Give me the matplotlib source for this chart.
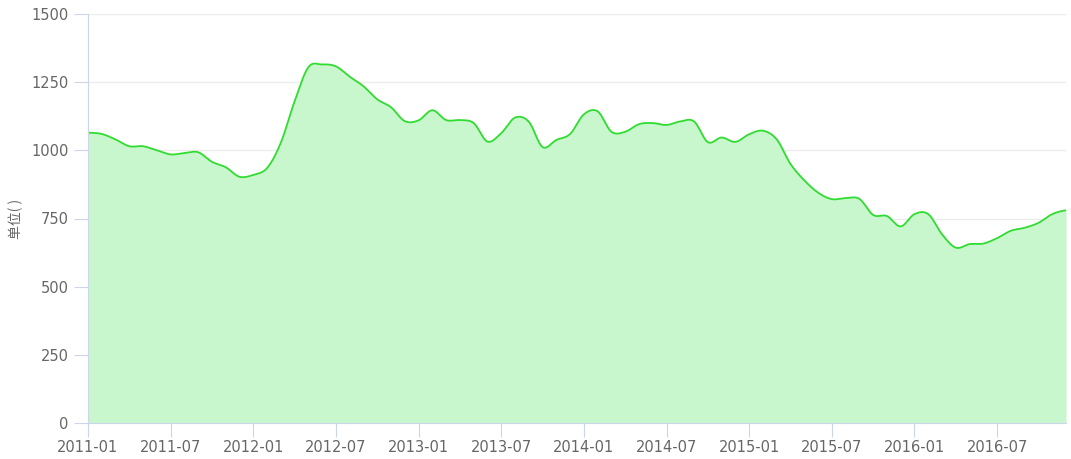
# Monthly series 2011-01 .. 2016-12, smoothed area chart
import numpy as np
import matplotlib
matplotlib.use("Agg")
import matplotlib.pyplot as plt

years = [2011, 2012, 2013, 2014, 2015, 2016]
months = [f"{y}-{m:02d}" for y in years for m in range(1, 13)]

values = [
    1065, 1060, 1040, 1015, 1015, 1000, 985, 990, 993, 958, 938, 903,
    910, 935, 1028, 1180, 1305, 1315, 1308, 1270, 1235, 1187, 1158, 1107,
    1110, 1147, 1111, 1111, 1100, 1032, 1063, 1120, 1105, 1012, 1038, 1060,
    1132, 1143, 1068, 1068, 1096, 1100, 1093, 1106, 1106, 1030, 1047, 1031,
    1059, 1072, 1040, 950, 890, 845, 821, 825, 822, 763, 759, 721,
    766, 766, 692, 643, 656, 658, 678, 705, 716, 734, 766, 780,
]

tick_idx = list(range(0, len(months), 6))
tick_labels = [months[i] for i in tick_idx]
y_ticks = [0, 250, 500, 750, 1000, 1250, 1500]

line_color = "#2fdc2f"
fill_color = "#c9f7cd"
axis_color = "#ccd6eb"
grid_color = "#ececec"
text_color = "#666666"

# smooth curve through the monthly points (catmull-rom, like echarts smooth)
x = np.arange(len(values), dtype=float)
y = np.array(values, dtype=float)
xs, ys = [], []
for i in range(len(x) - 1):
    p0 = y[i - 1] if i > 0 else y[i]
    p1, p2 = y[i], y[i + 1]
    p3 = y[i + 2] if i + 2 < len(y) else y[i + 1]
    t = np.linspace(0, 1, 20, endpoint=False)
    seg = 0.5 * ((2 * p1) + (-p0 + p2) * t + (2 * p0 - 5 * p1 + 4 * p2 - p3) * t**2
                 + (-p0 + 3 * p1 - 3 * p2 + p3) * t**3)
    xs.append(x[i] + t)
    ys.append(seg)
xs = np.concatenate(xs + [[x[-1]]])
ys = np.concatenate(ys + [[y[-1]]])

fig = plt.figure(figsize=(10.71, 4.59), dpi=100)
ax = fig.add_axes([88 / 1071, 36 / 459, 978 / 1071, 409 / 459])

ax.fill_between(xs, ys, 0, color=fill_color, linewidth=0, zorder=2)
ax.plot(xs, ys, color=line_color, linewidth=1.3, zorder=3)

ax.set_xlim(0, len(values) - 1)
ax.set_ylim(0, 1500)
ax.set_yticks(y_ticks)
ax.set_yticklabels([str(v) for v in y_ticks])
ax.set_xticks(tick_idx)
ax.set_xticklabels(tick_labels)

ax.grid(axis="y", color=grid_color, linewidth=1, zorder=1)
ax.set_axisbelow(True)

for side in ["top", "right"]:
    ax.spines[side].set_visible(False)
ax.spines["left"].set_color(axis_color)
ax.spines["bottom"].set_color(axis_color)
ax.spines["left"].set_zorder(4)
ax.spines["bottom"].set_zorder(4)

ax.tick_params(axis="y", length=10, color=axis_color, labelcolor=text_color,
               labelsize=10.5, pad=4)
ax.tick_params(axis="x", length=10, color=axis_color, labelcolor=text_color,
               labelsize=10.5, pad=2)

ax.set_ylabel("单位( )", family=["Noto Sans CJK SC", "DejaVu Sans"], fontsize=10,
              color=text_color)
ax.yaxis.set_label_coords(-0.066, 0.5)

fig.savefig("out.png", dpi=100)
